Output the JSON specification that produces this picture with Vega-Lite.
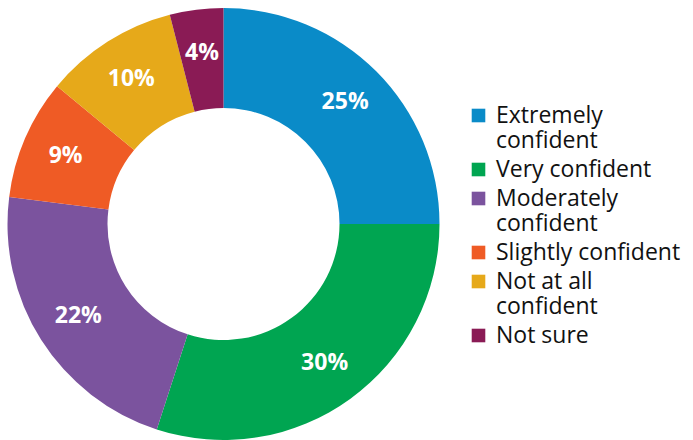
{
  "$schema": "https://vega.github.io/schema/vega-lite/v6.json",
  "autosize": {"type": "pad"},
  "padding": 0,
  "width": 447,
  "height": 448,
  "background": "white",
  "data": {"values": [
    {"category": "Extremely|confident", "value": 25, "order": 1, "label": "25%"},
    {"category": "Very confident", "value": 30, "order": 2, "label": "30%"},
    {"category": "Moderately|confident", "value": 22, "order": 3, "label": "22%"},
    {"category": "Slightly confident", "value": 9, "order": 4, "label": "9%"},
    {"category": "Not at all|confident", "value": 10, "order": 5, "label": "10%"},
    {"category": "Not sure", "value": 4, "order": 6, "label": "4%"}
  ]},
  "encoding": {
    "theta": {"field": "value", "type": "quantitative", "stack": true},
    "order": {"field": "order", "type": "quantitative"}
  },
  "layer": [
    {
      "mark": {"type": "arc", "innerRadius": 116, "outerRadius": 216},
      "encoding": {
        "color": {
          "field": "category", "type": "nominal",
          "sort": {"field": "order"},
          "scale": {
            "domain": ["Extremely|confident", "Very confident", "Moderately|confident", "Slightly confident", "Not at all|confident", "Not sure"],
            "range": ["#0A8BC8", "#00A551", "#7B539E", "#EF5B25", "#E6A91A", "#8A1B55"]
          },
          "legend": {
            "title": null,
            "orient": "none",
            "legendX": 467,
            "legendY": 104,
            "padding": 0,
            "symbolType": "square",
            "symbolSize": 185,
            "symbolStrokeWidth": 0,
            "symbolOpacity": 1,
            "labelFont": "Open Sans",
            "labelFontSize": 23,
            "labelColor": "#111111",
            "labelOffset": 6,
            "labelLimit": 300,
            "rowPadding": 5,
            "labelExpr": "split(datum.label, '|')"
          }
        }
      }
    },
    {
      "mark": {"type": "text", "radius": 172, "font": "Open Sans", "fontSize": 23, "fontWeight": "bold", "color": "white"},
      "encoding": {"text": {"field": "label"}}
    }
  ],
  "config": {
    "view": {"stroke": null}
  }
}
